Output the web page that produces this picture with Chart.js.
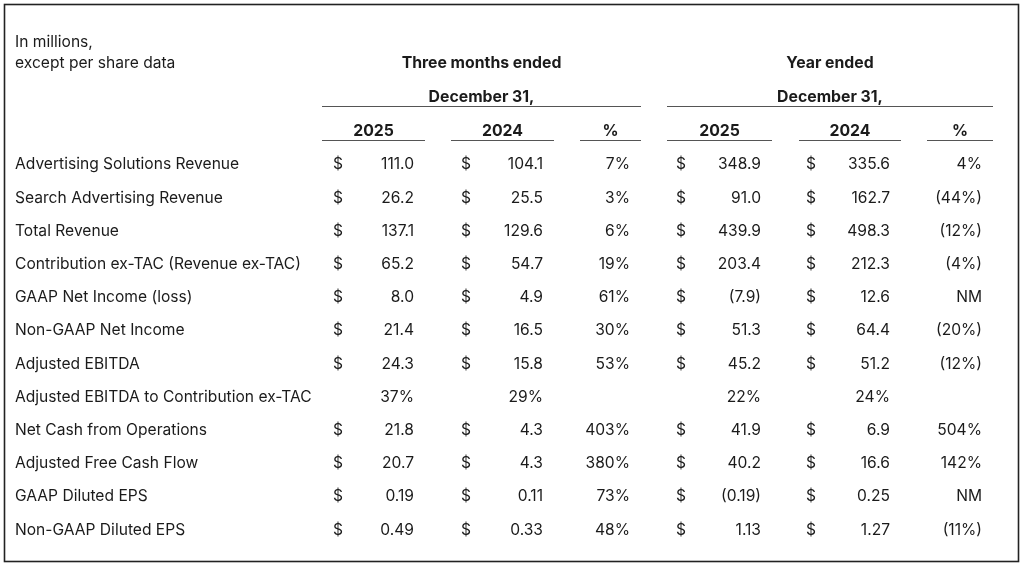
<!DOCTYPE html>
<html>
<head>
<meta charset="utf-8">
<script src="https://cdn.jsdelivr.net/npm/chart.js@4/dist/chart.umd.min.js"></script>
<style>
  html, body { margin: 0; padding: 0; background: #fff; }
  #wrap { width: 1024px; height: 568px; position: relative; }
</style>
</head>
<body>
<div id="wrap"><canvas id="chartContainer"></canvas></div>
<script>
// row labels
var rows = [
  'Advertising Solutions Revenue',
  'Search Advertising Revenue',
  'Total Revenue',
  'Contribution ex-TAC (Revenue ex-TAC)',
  'GAAP Net Income (loss)',
  'Non-GAAP Net Income',
  'Adjusted EBITDA',
  'Adjusted EBITDA to Contribution ex-TAC',
  'Net Cash from Operations',
  'Adjusted Free Cash Flow',
  'GAAP Diluted EPS',
  'Non-GAAP Diluted EPS'
];

// three months ended Dec 31
var q2025 = [111.0, 26.2, 137.1, 65.2, 8.0, 21.4, 24.3, 37, 21.8, 20.7, 0.19, 0.49];
var q2024 = [104.1, 25.5, 129.6, 54.7, 4.9, 16.5, 15.8, 29, 4.3, 4.3, 0.11, 0.33];
var qPct  = [7, 3, 6, 19, 61, 30, 53, null, 403, 380, 73, 48];

// year ended Dec 31
var y2025 = [348.9, 91.0, 439.9, 203.4, -7.9, 51.3, 45.2, 22, 41.9, 40.2, -0.19, 1.13];
var y2024 = [335.6, 162.7, 498.3, 212.3, 12.6, 64.4, 51.2, 24, 6.9, 16.6, 0.25, 1.27];
var yPct  = [4, -44, -12, -4, 'NM', -20, -12, null, 504, 142, 'NM', -11];

var ratioRow = 7;            // the one row shown as % with no $ sign
var unitNote = ['In millions,', 'except per share data'];
var groupTitles = ['Three months ended', 'Year ended'];
var groupSub = 'December 31,';
var colHeads = ['2025', '2024', '%', '2025', '2024', '%'];

// layout (x in canvas units, y in row units)
var groupSpan = [[322, 641], [667, 993]];
var colSpan = [[322, 425], [451, 554], [580, 641], [667, 772], [799, 901], [927, 993]];
var labelX = 15;
var dollarX = [333, 461, 676, 806];
var valueX = [414, 543, 630, 761, 890, 982];
var yTop = -4.96, yBottom = 12.15;
var noteY = [-3.7, -3.04], titleY = -3.04, subY = -2.02, subLineY = -1.78, headY = -1.02, headLineY = -0.745;

var ink = '#1b1b1b';
var regFont = '15.6px Inter, "Noto Sans", sans-serif';
var boldFont = 'bold 15.8px Inter, "Noto Sans", sans-serif';

function fmtVal(v, i) {
  if (v === null || v === undefined) return '';
  if (i === ratioRow) return v + '%';
  var dec = rows[i].indexOf('EPS') >= 0 ? 2 : 1;
  var s = Math.abs(v).toFixed(dec);
  return v < 0 ? '(' + s + ')' : s;
}
function fmtPct(v) {
  if (v === null || v === undefined) return '';
  if (typeof v === 'string') return v;
  return v < 0 ? '(' + (-v) + '%)' : v + '%';
}

function column(x, texts, align) {
  return {
    data: rows.map(function (r, i) { return { x: x, y: i }; }),
    cellText: texts,
    cellAlign: align,
    pointRadius: 0,
    showLine: false
  };
}

var datasets = [];
datasets.push(column(labelX, rows, 'left'));
var dollarCols = [q2025, q2024, y2025, y2024];
for (var d = 0; d < dollarCols.length; d++) {
  datasets.push(column(dollarX[d], rows.map(function (r, i) { return i === ratioRow ? '' : '$'; }), 'left'));
}
var valueCols = [q2025, q2024, qPct, y2025, y2024, yPct];
for (var c = 0; c < valueCols.length; c++) {
  var isPct = (c === 2 || c === 5);
  var src = valueCols[c];
  datasets.push(column(valueX[c], src.map(function (v, i) { return isPct ? fmtPct(v) : fmtVal(v, i); }), 'right'));
}

var tablePlugin = {
  id: 'tableText',
  beforeDraw: function (chart) {
    var ctx = chart.ctx;
    ctx.save();
    ctx.fillStyle = '#fff';
    ctx.fillRect(0, 0, chart.width, chart.height);
    ctx.restore();
  },
  afterDatasetsDraw: function (chart) {
    var ctx = chart.ctx, xs = chart.scales.x, ys = chart.scales.y;
    ctx.save();
    ctx.fillStyle = ink;
    ctx.textBaseline = 'middle';

    // cells
    ctx.font = regFont;
    chart.data.datasets.forEach(function (ds, k) {
      var meta = chart.getDatasetMeta(k);
      ctx.textAlign = ds.cellAlign;
      meta.data.forEach(function (pt, i) {
        if (ds.cellText[i]) ctx.fillText(ds.cellText[i], pt.x, pt.y);
      });
    });

    // top-left note
    ctx.textAlign = 'left';
    unitNote.forEach(function (t, i) { ctx.fillText(t, xs.getPixelForValue(labelX), ys.getPixelForValue(noteY[i])); });

    // group headers
    ctx.font = boldFont;
    ctx.textAlign = 'center';
    ctx.strokeStyle = '#555';
    ctx.lineWidth = 1;
    groupSpan.forEach(function (sp, g) {
      var x0 = xs.getPixelForValue(sp[0]), x1 = xs.getPixelForValue(sp[1]);
      ctx.fillText(groupTitles[g], (x0 + x1) / 2, ys.getPixelForValue(titleY));
      ctx.fillText(groupSub, (x0 + x1) / 2, ys.getPixelForValue(subY));
      var ly = Math.round(ys.getPixelForValue(subLineY)) + 0.5;
      ctx.beginPath(); ctx.moveTo(x0, ly); ctx.lineTo(x1, ly); ctx.stroke();
    });
    colSpan.forEach(function (sp, j) {
      var x0 = xs.getPixelForValue(sp[0]), x1 = xs.getPixelForValue(sp[1]);
      ctx.fillText(colHeads[j], (x0 + x1) / 2, ys.getPixelForValue(headY));
      var ly = Math.round(ys.getPixelForValue(headLineY)) + 0.5;
      ctx.beginPath(); ctx.moveTo(x0, ly); ctx.lineTo(x1, ly); ctx.stroke();
    });

    // frame
    ctx.strokeStyle = '#222';
    ctx.lineWidth = 1.6;
    ctx.strokeRect(4.5, 4.5, 1014, 557);
    ctx.restore();
  }
};

var ctx = document.getElementById('chartContainer').getContext('2d');
var myChart = new Chart(ctx, {
  type: 'scatter',
  data: { datasets: datasets },
  options: {
    responsive: true,
    maintainAspectRatio: false,
    animation: false,
    layout: { padding: 0 },
    plugins: { legend: { display: false }, tooltip: { enabled: false } },
    scales: {
      x: { type: 'linear', display: false, min: 0, max: 1024 },
      y: { type: 'linear', display: false, reverse: true, min: yTop, max: yBottom }
    }
  },
  plugins: [tablePlugin]
});
</script>
</body>
</html>
